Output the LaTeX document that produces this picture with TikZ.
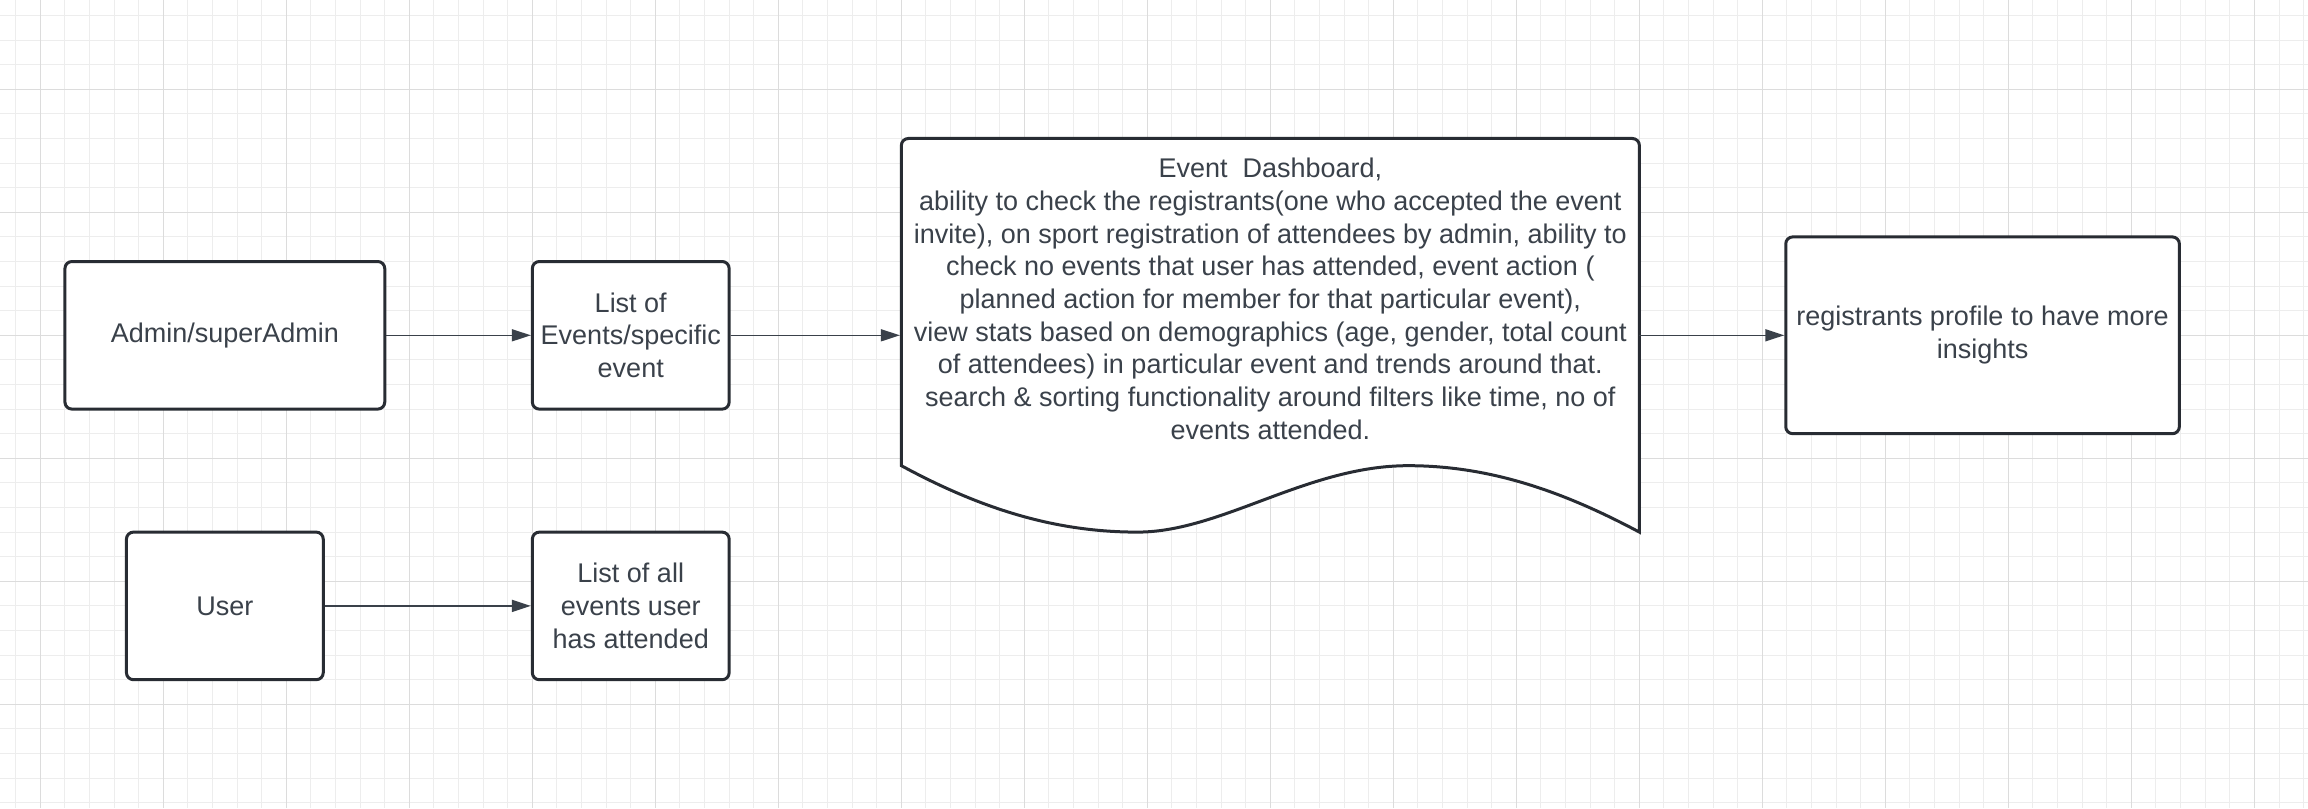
\documentclass[tikz,border=0pt]{standalone}
\usepackage{fontspec}
\setmainfont{Liberation Sans}
\usetikzlibrary{arrows.meta}
\definecolor{boxline}{HTML}{282C33}
\definecolor{txtgray}{HTML}{3A414A}
\definecolor{gridminor}{HTML}{EDEDED}
\definecolor{gridmajor}{HTML}{DCDCDC}
\tikzset{
  flowbox/.style={draw=boxline, line width=3pt, rounded corners=7pt, fill=white,
    text=txtgray, align=center, inner sep=0pt, font=\fontsize{27}{32.7}\selectfont},
  flowtext/.style={text=txtgray, align=center, inner sep=0pt, font=\fontsize{27}{32.7}\selectfont},
  flowarrow/.style={draw=txtgray, line width=1.6pt, -{Triangle[length=19pt,width=12pt]}},
}
\def\gu{24.6pt}
\begin{document}
\begin{tikzpicture}
[x=24.6pt, y=-24.6pt]
\useasboundingbox (-1.64,-3.63) rectangle (92.18,29.22);
\clip (-1.64,-3.63) rectangle (92.18,29.22);
\foreach \gx in {-1,...,92} \draw[gridminor, line width=1pt] (\gx,-3.63) -- (\gx,29.22); %% small squares
\foreach \gy in {-3,...,29} \draw[gridminor, line width=1pt] (-1.64,\gy) -- (92.18,\gy);
\foreach \gx in {0,5,...,90} \draw[gridmajor, line width=1.2pt] (\gx,-3.63) -- (\gx,29.22); %% big squares
\foreach \gy in {0,5,...,25} \draw[gridmajor, line width=1.2pt] (-1.64,\gy) -- (92.18,\gy);
%%
\node[flowbox, minimum width=13*\gu, minimum height=6*\gu] (admin) at (7.5, 10) {Admin/superAdmin};
\node[flowbox, minimum width=8*\gu, minimum height=6*\gu] (listev) at (24, 10) {List of\\Events/specific\\event};
\node[flowbox, minimum width=16*\gu, minimum height=8*\gu] (regprof) at (79-0.05, 10) {registrants profile to have more\\insights};
\node[flowbox, minimum width=8*\gu, minimum height=6*\gu] (user) at (7.5, 21) {User};
\node[flowbox, minimum width=8*\gu, minimum height=6*\gu] (listall) at (24, 21) {List of all\\events user\\has attended};
%%
\draw[boxline, line width=3pt, fill=white] (35, 15.3) -- (35, 8) [rounded corners=7pt] -- (35, 2) -- (65, 2) -- (65, 8)
  [sharp corners] -- (65, 18)
  .. controls (62, 16.4) and (59, 15.3) .. (55.6, 15.3)
  .. controls (51.5, 15.3) and (48, 18) .. (44.6, 18)
  .. controls (41.5, 18) and (38.5, 17.2) .. (35, 15.3) -- cycle; %% Dashboard
\node[flowtext] (dash) at (50, 8.52) {Event\ \ Dashboard,\\
  ability to check the registrants(one who accepted the event\\
  invite), on sport registration of attendees by admin, ability to\\
  check no events that user has attended, event action (\\
  planned action for member for that particular event),\\
  view stats based on demographics (age, gender, total count\\
  of attendees) in particular event and trends around that.\\
  search \& sorting functionality around filters like time, no of\\
  events attended.};
\coordinate (dashin) at (35-0.06, 10);
\coordinate (dashout) at (65, 10);
%%
\draw[flowarrow] (admin) -- (listev);
\draw[flowarrow] (listev) -- (dashin);
\draw[flowarrow] (dashout) -- (regprof);
\draw[flowarrow] (user) -- (listall);
\end{tikzpicture}
\end{document}
